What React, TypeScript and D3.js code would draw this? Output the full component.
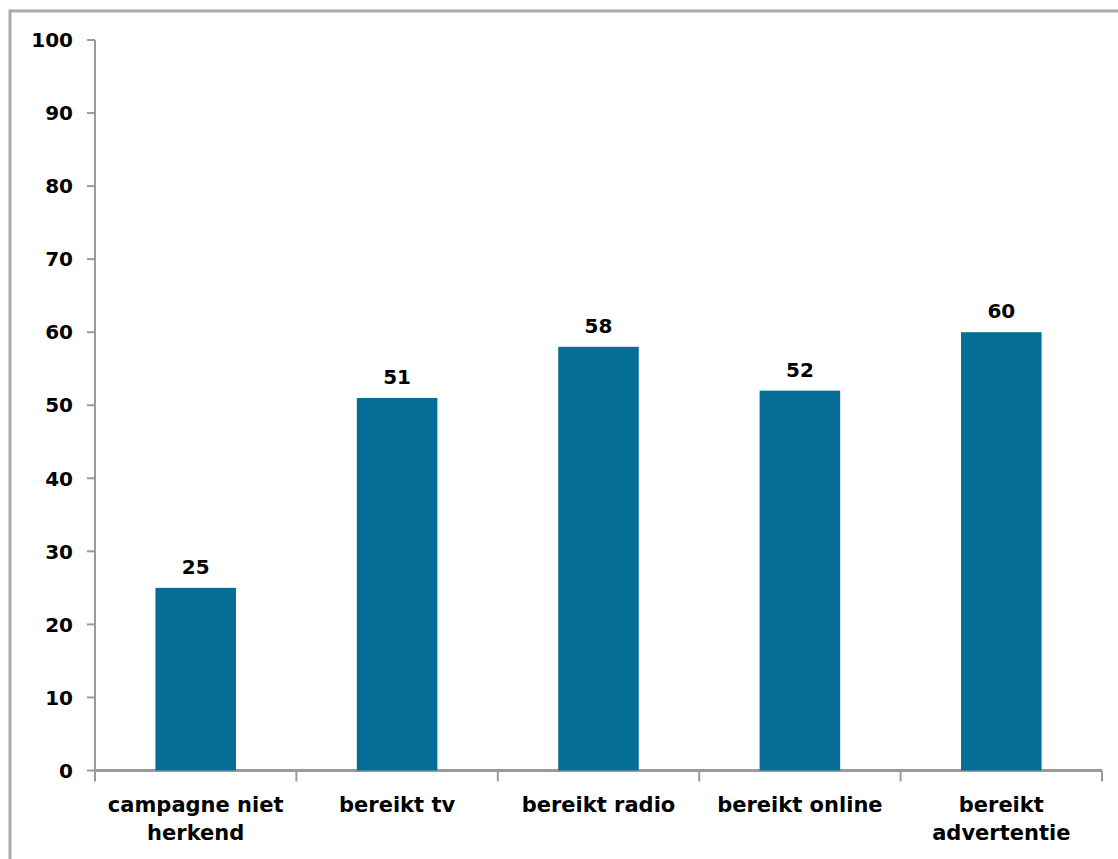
import React from "react";
import * as d3 from "d3";

const categories: string[][] = [
  ["campagne niet", "herkend"],
  ["bereikt tv"],
  ["bereikt radio"],
  ["bereikt online"],
  ["bereikt", "advertentie"],
];
const values: number[] = [25, 51, 58, 52, 60];
const yTicks: number[] = [0, 10, 20, 30, 40, 50, 60, 70, 80, 90, 100];

export default function App() {
  const W = 1118, H = 859;
  const x0 = 95, x1 = 1102, yTop = 40, yBot = 770.5;
  const x = d3.scaleBand<number>().domain(d3.range(values.length)).range([x0, x1]).paddingInner(0.6).paddingOuter(0.3);
  const xb = d3.scaleBand<number>().domain(d3.range(values.length)).range([x0, x1]);
  const y = d3.scaleLinear().domain([0, 100]).range([yBot, yTop]);
  const font = "'DejaVu Sans', Verdana, sans-serif";
  const axisColor = "#9a9a9a";
  return (
    <svg width={W} height={H} style={{ position: "absolute", left: 0, top: 0 }}>
      <rect x={0} y={0} width={W} height={H} fill="#fff" />
      <rect x={10} y={11} width={W + 20} height={H + 20} fill="none" stroke="#aaaaaa" strokeWidth={3} />
      {/* y axis */}
      <line x1={x0} x2={x0} y1={yTop} y2={yBot} stroke={axisColor} strokeWidth={2} />
      {yTicks.map((t) => (
        <g key={t}>
          <line x1={x0 - 8} x2={x0} y1={y(t)} y2={y(t)} stroke={axisColor} strokeWidth={2} />
          <text x={x0 - 22} y={y(t)} dy="0.36em" textAnchor="end" fontFamily={font} fontWeight="bold" fontSize={20} fill="#000">
            {t}
          </text>
        </g>
      ))}
      {/* x axis */}
      <line x1={x0} x2={x1} y1={yBot} y2={yBot} stroke={axisColor} strokeWidth={3} />
      {d3.range(values.length + 1).map((i) => {
        const xx = i < values.length ? (xb(i) as number) : x1;
        return <line key={i} x1={xx} x2={xx} y1={yBot} y2={yBot + 11} stroke={axisColor} strokeWidth={2} />;
      })}
      {values.map((v, i) => (
        <g key={i}>
          <rect x={x(i)} y={y(v)} width={x.bandwidth()} height={yBot - y(v)} fill="#066e96" />
          <text x={(x(i) as number) + x.bandwidth() / 2} y={y(v) - 14} textAnchor="middle" fontFamily={font} fontWeight="bold" fontSize={20} fill="#000">
            {v}
          </text>
          {categories[i].map((line, j) => (
            <text key={j} x={(xb(i) as number) + xb.bandwidth() / 2} y={812 + j * 28} textAnchor="middle" fontFamily={font} fontWeight="bold" fontSize={21} fill="#000">
              {line}
            </text>
          ))}
        </g>
      ))}
    </svg>
  );
}
